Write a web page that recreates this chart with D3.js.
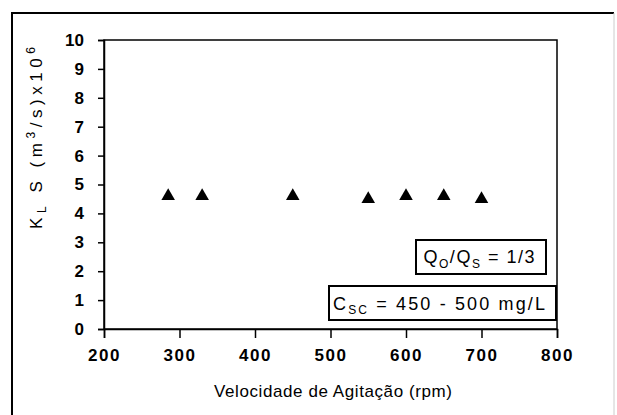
<!DOCTYPE html>
<html><head><meta charset="utf-8">
<script src="https://cdn.jsdelivr.net/npm/d3@7"></script>
<style>
body{margin:0;background:#fff;}
text{font-family:"Liberation Sans",Arial,sans-serif;fill:#000;}
</style></head>
<body><svg id="c" width="617" height="415"></svg>
<script>
const speeds = [285, 330, 450, 550, 600, 650, 700];
const kls = [4.65, 4.65, 4.65, 4.55, 4.65, 4.65, 4.55];
const xTicks = [200, 300, 400, 500, 600, 700, 800];
const yTicks = [0,1,2,3,4,5,6,7,8,9,10];

const svg = d3.select('#c');
svg.append('rect').attr('width',617).attr('height',415).attr('fill','#fff');
// outer frame
svg.append('path').attr('d','M12,430V13H614').attr('fill','none').attr('stroke','#000').attr('stroke-width',2);
svg.append('path').attr('d','M614,13V430').attr('fill','none').attr('stroke','#ccc').attr('stroke-width',1);

const x = d3.scaleLinear().domain([200,800]).range([104,557]);
const y = d3.scaleLinear().domain([0,10]).range([329,40]);

svg.append('rect').attr('x',x(200)).attr('y',y(10)).attr('width',x(800)-x(200)).attr('height',y(0)-y(10))
  .attr('fill','none').attr('stroke','#000').attr('stroke-width',1.5);

const ax = svg.append('g').attr('transform',`translate(0,${y(0)})`)
  .call(d3.axisBottom(x).tickValues(xTicks).tickSize(9).tickPadding(11).tickFormat(d3.format('d')));
const ay = svg.append('g').attr('transform',`translate(${x(200)},0)`)
  .call(d3.axisLeft(y).tickValues(yTicks).tickSize(6).tickPadding(14).tickFormat(d3.format('d')));
[ax,ay].forEach(g=>{
  g.select('.domain').attr('stroke','#000').attr('stroke-width',1.5);
  g.selectAll('.tick line').attr('stroke','#000').attr('stroke-width',1.5);
  g.selectAll('.tick text').attr('fill','#000')
    .style('font-family','"Liberation Sans Narrow","Liberation Sans",Arial,sans-serif')
    .style('font-weight','bold').style('font-size','17px');
});
ax.selectAll('.tick text').style('letter-spacing','1.5px');

// markers
const tri = d3.symbol().type(d3.symbolTriangle).size(80);
svg.append('g').selectAll('path').data(speeds).join('path')
  .attr('transform',(d,i)=>`translate(${x(d)},${y(kls[i])+1.5})`)
  .attr('d',tri).attr('fill','#000');

// axis titles
svg.append('text').attr('x',333).attr('y',397).attr('text-anchor','middle')
  .attr('textLength',238).attr('lengthAdjust','spacing')
  .style('font-size','17px')
  .text('Velocidade de Agitação (rpm)');

const yl = svg.append('text').attr('transform','translate(42,138) rotate(-90)').attr('text-anchor','middle')
  .attr('textLength',182).attr('lengthAdjust','spacing')
  .style('font-size','17px');
yl.append('tspan').text('K');
yl.append('tspan').attr('dy',4).style('font-size','12px').text('L');
yl.append('tspan').attr('dy',-4).text(' S (m');
yl.append('tspan').attr('dy',-7).style('font-size','12px').text('3');
yl.append('tspan').attr('dy',7).text('/s)x10');
yl.append('tspan').attr('dy',-7).style('font-size','12px').text('6');

// annotation boxes
svg.append('rect').attr('x',416).attr('y',240).attr('width',130).attr('height',34)
  .attr('fill','#fff').attr('stroke','#000').attr('stroke-width',2);
const t1 = svg.append('text').attr('x',479).attr('y',263).attr('text-anchor','middle')
  .attr('textLength',111).attr('lengthAdjust','spacing')
  .style('font-size','18px');
t1.append('tspan').text('Q');
t1.append('tspan').attr('dy',5).style('font-size','12px').text('O');
t1.append('tspan').attr('dy',-5).text('/Q');
t1.append('tspan').attr('dy',5).style('font-size','12px').text('S');
t1.append('tspan').attr('dy',-5).text(' = 1/3');

svg.append('rect').attr('x',329).attr('y',286).attr('width',227).attr('height',34)
  .attr('fill','#fff').attr('stroke','#000').attr('stroke-width',2);
const t2 = svg.append('text').attr('x',439).attr('y',310).attr('text-anchor','middle')
  .attr('textLength',212).attr('lengthAdjust','spacing')
  .style('font-size','18px');
t2.append('tspan').text('C');
t2.append('tspan').attr('dy',4).style('font-size','12px').text('SC');
t2.append('tspan').attr('dy',-4).text(' = 450 - 500 mg/L');
</script></body></html>
